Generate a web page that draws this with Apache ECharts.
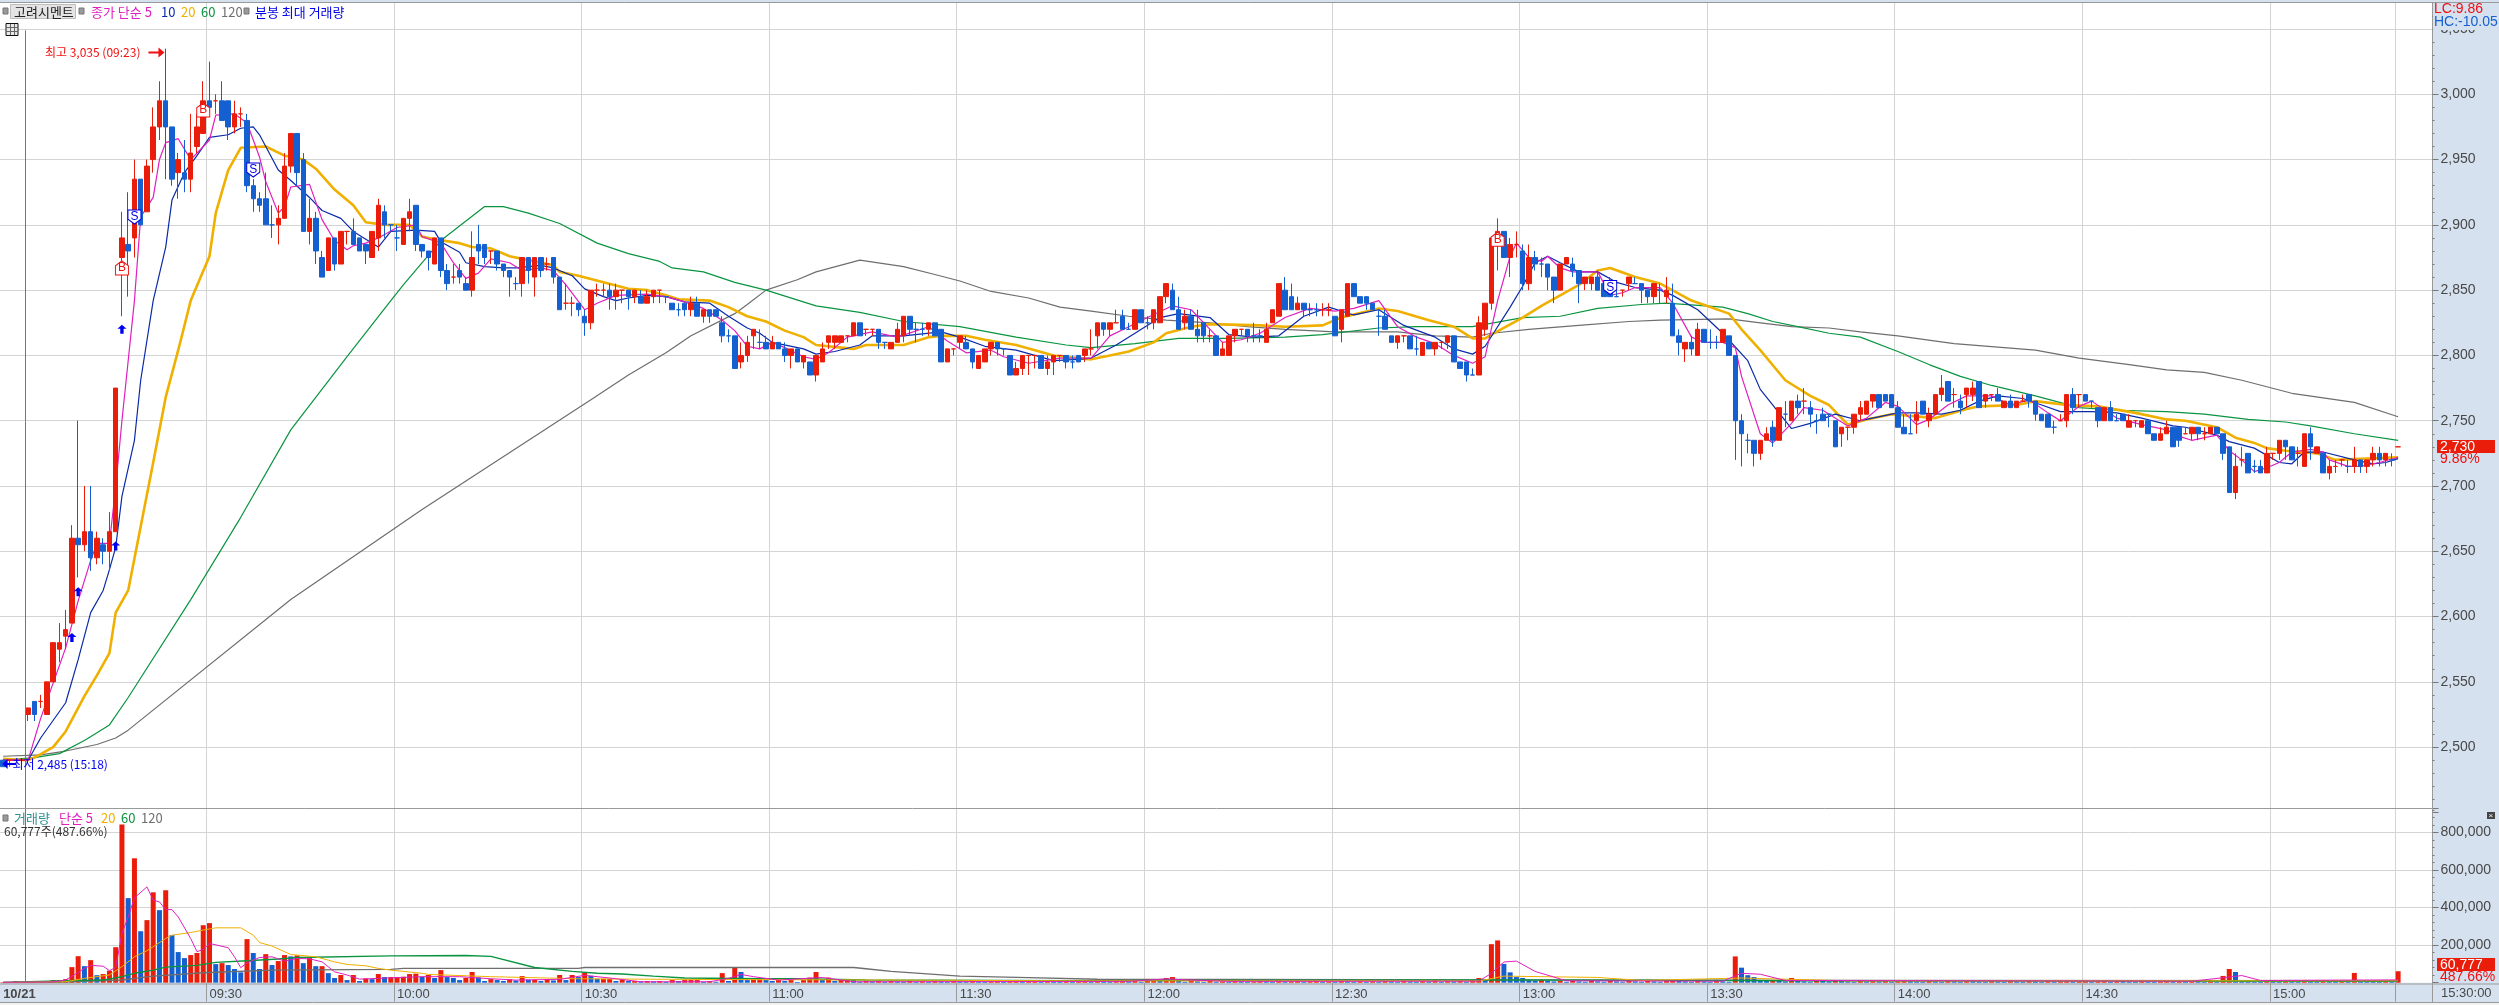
<!DOCTYPE html>
<html><head><meta charset="utf-8">
<style>html,body{margin:0;padding:0;background:#fff}#c{width:2499px;height:1005px}</style>
<script src="https://cdn.jsdelivr.net/npm/echarts@6/dist/echarts.min.js"></script>
</head><body><div id="c"></div>
<script>
// one row per minute: open, close, low, high
const candles = [
[2490,2485,2485,2490],[2490,2490,2485,2490],[2490,2490,2490,2490],[2490,2490,2490,2490],
[2525,2530,2520,2530],[2535,2525,2520,2535],[2535,2535,2530,2540],[2525,2550,2525,2550],[2550,2580,2550,2580],[2575,2580,2565,2595],
[2585,2590,2575,2605],[2595,2660,2595,2670],[2660,2655,2630,2750],[2655,2665,2650,2700],[2665,2645,2635,2700],[2645,2660,2640,2665],[2655,2650,2640,2660],[2650,2665,2635,2680],[2665,2775,2665,2775],[2875,2890,2830,2910],
[2885,2880,2845,2925],[2890,2935,2875,2950],[2935,2900,2900,2935],[2910,2945,2910,2950],[2950,2975,2940,2990],[2975,2995,2965,3010],[2995,2975,2935,3035],[2975,2935,2930,2975],[2940,2950,2920,2955],[2940,2935,2925,2965],
[2935,2955,2925,2985],[2960,2975,2955,2985],[2970,2995,2970,3010],[2995,2990,2985,3025],[2995,2995,2985,3000],[2995,2980,2980,3010],[2995,2975,2965,2995],[2975,2985,2970,2995],[2985,2985,2975,2990],[2980,2930,2925,2985],
[2930,2920,2910,2935],[2920,2915,2910,2925],[2920,2900,2900,2940],[2900,2900,2890,2915],[2900,2905,2885,2915],[2905,2945,2905,2955],[2945,2970,2940,2970],[2970,2940,2930,2970],[2950,2895,2895,2955],[2895,2905,2885,2920],
[2905,2880,2870,2910],[2875,2860,2860,2880],[2865,2890,2865,2890],[2890,2870,2865,2890],[2870,2895,2870,2895],[2895,2895,2885,2895],[2895,2885,2885,2905],[2890,2880,2880,2890],[2885,2880,2870,2885],[2875,2895,2875,2895],
[2890,2915,2880,2920],[2910,2900,2890,2915],[2900,2900,2895,2900],[2890,2890,2880,2900],[2885,2905,2885,2905],[2905,2910,2895,2920],[2915,2885,2880,2915],[2885,2880,2875,2885],[2880,2875,2865,2880],[2870,2890,2870,2890],
[2890,2865,2860,2890],[2865,2855,2850,2870],[2860,2860,2855,2870],[2865,2860,2855,2870],[2855,2850,2850,2860],[2850,2875,2845,2895],[2885,2880,2870,2900],[2885,2875,2870,2885],[2880,2880,2870,2880],[2880,2870,2865,2880],
[2870,2865,2860,2870],[2865,2860,2845,2865],[2855,2855,2850,2860],[2855,2875,2845,2875],[2875,2865,2855,2875],[2860,2875,2845,2875],[2875,2865,2860,2875],[2870,2870,2865,2875],[2875,2860,2855,2875],[2860,2835,2835,2860],
[2840,2840,2835,2855],[2840,2840,2830,2845],[2840,2835,2830,2840],[2830,2825,2815,2835],[2825,2850,2820,2850],[2850,2850,2845,2855],[2850,2850,2845,2855],[2850,2845,2835,2855],[2845,2850,2835,2855],[2850,2850,2840,2850],
[2850,2845,2835,2850],[2845,2850,2840,2850],[2845,2840,2840,2850],[2840,2845,2840,2850],[2845,2850,2840,2850],[2850,2850,2840,2850],[2845,2845,2840,2845],[2840,2835,2835,2840],[2835,2835,2830,2840],[2840,2835,2830,2840],
[2835,2840,2830,2845],[2840,2830,2830,2845],[2830,2835,2825,2835],[2835,2830,2825,2835],[2835,2830,2830,2835],[2825,2815,2810,2830],[2815,2815,2810,2820],[2815,2790,2790,2815],[2795,2800,2790,2810],[2800,2810,2795,2815],
[2815,2820,2805,2820],[2810,2810,2805,2820],[2810,2805,2805,2815],[2805,2810,2805,2815],[2810,2805,2805,2810],[2805,2800,2795,2810],[2800,2805,2790,2805],[2805,2795,2795,2805],[2795,2800,2790,2800],[2795,2785,2785,2795],
[2785,2800,2780,2800],[2795,2805,2795,2810],[2810,2815,2805,2815],[2810,2815,2805,2815],[2810,2815,2810,2815],[2815,2815,2810,2815],[2815,2825,2815,2825],[2825,2815,2815,2825],[2820,2820,2815,2820],[2820,2820,2815,2820],
[2820,2810,2805,2820],[2810,2810,2805,2810],[2805,2810,2805,2810],[2810,2820,2810,2825],[2815,2830,2810,2830],[2830,2820,2815,2830],[2820,2820,2810,2825],[2820,2820,2815,2825],[2820,2825,2815,2825],[2825,2815,2815,2825],
[2820,2795,2795,2820],[2795,2805,2795,2805],[2805,2805,2800,2805],[2810,2815,2805,2815],[2810,2805,2805,2815],[2805,2795,2790,2805],[2790,2800,2790,2800],[2795,2805,2795,2805],[2805,2810,2800,2810],[2810,2805,2800,2810],
[2805,2805,2800,2805],[2800,2785,2785,2800],[2785,2790,2785,2795],[2790,2800,2785,2800],[2800,2800,2785,2800],[2800,2800,2790,2800],[2800,2790,2790,2800],[2790,2795,2785,2800],[2795,2800,2785,2800],[2800,2800,2795,2800],
[2800,2795,2790,2800],[2795,2795,2790,2800],[2800,2795,2795,2800],[2800,2805,2795,2805],[2805,2805,2800,2820],[2815,2825,2805,2825],[2825,2820,2815,2825],[2820,2825,2815,2825],[2825,2825,2825,2835],[2830,2820,2820,2835],
[2820,2820,2820,2825],[2820,2835,2820,2835],[2835,2825,2825,2835],[2825,2825,2820,2830],[2825,2835,2820,2835],[2825,2845,2825,2845],[2845,2855,2840,2855],[2850,2835,2835,2855],[2835,2820,2820,2845],[2825,2830,2820,2835],
[2830,2820,2820,2835],[2820,2815,2810,2835],[2825,2815,2810,2825],[2815,2815,2810,2820],[2815,2800,2800,2815],[2800,2805,2800,2810],[2800,2815,2800,2815],[2815,2820,2810,2820],[2820,2820,2815,2820],[2820,2815,2810,2820],
[2815,2815,2810,2825],[2815,2815,2810,2820],[2810,2820,2810,2825],[2825,2835,2825,2835],[2830,2855,2830,2855],[2850,2835,2835,2860],[2845,2835,2835,2855],[2835,2840,2835,2845],[2840,2835,2830,2840],[2835,2835,2830,2840],
[2835,2835,2830,2840],[2835,2835,2830,2840],[2835,2835,2830,2840],[2830,2815,2815,2830],[2820,2835,2810,2835],[2830,2855,2830,2855],[2855,2845,2845,2855],[2845,2840,2840,2845],[2845,2840,2835,2845],[2840,2835,2835,2840],
[2830,2830,2815,2835],[2830,2820,2820,2835],[2815,2810,2810,2815],[2810,2815,2805,2815],[2815,2815,2810,2815],[2815,2805,2805,2815],[2805,2805,2800,2815],[2800,2810,2800,2810],[2810,2805,2805,2810],[2805,2810,2800,2810],
[2810,2810,2805,2810],[2810,2815,2805,2815],[2815,2795,2795,2815],[2795,2790,2790,2795],[2795,2785,2780,2795],[2785,2785,2785,2790],[2785,2825,2785,2830],[2820,2840,2815,2840],[2840,2890,2835,2890],[2890,2895,2865,2905],
[2895,2875,2875,2895],[2875,2885,2860,2890],[2885,2885,2875,2895],[2880,2855,2850,2885],[2855,2875,2850,2885],[2875,2870,2865,2880],[2870,2870,2860,2875],[2870,2860,2850,2870],[2860,2850,2840,2860],[2850,2870,2850,2870],
[2870,2875,2870,2875],[2870,2865,2860,2875],[2865,2855,2840,2865],[2855,2860,2850,2860],[2855,2860,2850,2860],[2860,2850,2850,2865],[2855,2845,2845,2855],[2850,2845,2845,2860],[2845,2845,2845,2850],[2850,2850,2845,2850],
[2855,2860,2850,2860],[2855,2855,2855,2860],[2855,2850,2840,2855],[2850,2845,2840,2850],[2845,2855,2840,2855],[2850,2850,2840,2855],[2845,2850,2840,2860],[2840,2815,2815,2855],[2815,2810,2800,2820],[2805,2810,2795,2810],
[2810,2805,2800,2815],[2800,2820,2800,2825],[2820,2810,2810,2820],[2810,2810,2805,2820],[2810,2810,2805,2815],[2810,2820,2810,2820],[2815,2800,2800,2815],[2800,2750,2720,2800],[2750,2740,2715,2755],[2735,2735,2725,2740],
[2735,2725,2715,2735],[2725,2735,2720,2735],[2735,2740,2735,2745],[2745,2735,2730,2750],[2735,2760,2735,2760],[2755,2755,2745,2765],[2750,2765,2750,2765],[2765,2760,2755,2770],[2765,2765,2755,2775],[2760,2755,2745,2765],
[2750,2750,2740,2755],[2755,2750,2750,2760],[2755,2755,2745,2755],[2750,2730,2730,2750],[2740,2745,2730,2745],[2745,2745,2735,2745],[2745,2755,2740,2755],[2755,2760,2750,2765],[2755,2765,2755,2765],[2765,2770,2760,2770],
[2770,2760,2760,2770],[2770,2765,2765,2770],[2770,2760,2760,2770],[2760,2745,2745,2765],[2745,2740,2740,2755],[2740,2740,2740,2755],[2750,2755,2740,2765],[2765,2755,2755,2765],[2750,2755,2745,2760],[2755,2770,2755,2770],
[2770,2775,2765,2785],[2780,2765,2765,2780],[2770,2770,2760,2775],[2765,2760,2755,2770],[2770,2775,2760,2775],[2770,2775,2765,2780],[2780,2760,2760,2780],[2765,2770,2760,2770],[2770,2770,2765,2770],[2770,2765,2765,2775],
[2760,2765,2760,2765],[2765,2760,2760,2770],[2760,2765,2760,2765],[2765,2765,2765,2770],[2770,2765,2760,2770],[2765,2755,2750,2765],[2755,2750,2750,2755],[2755,2745,2745,2755],[2745,2745,2740,2750],[2750,2750,2750,2755],
[2750,2770,2745,2770],[2770,2760,2755,2775],[2770,2770,2760,2770],[2770,2765,2765,2770],[2765,2765,2760,2765],[2760,2750,2745,2760],[2750,2760,2750,2760],[2760,2750,2750,2765],[2750,2750,2750,2755],[2755,2750,2750,2755],
[2745,2750,2745,2755],[2750,2750,2745,2750],[2745,2750,2745,2750],[2750,2740,2740,2750],[2740,2735,2735,2740],[2735,2740,2735,2745],[2740,2745,2740,2750],[2745,2730,2730,2745],[2745,2735,2730,2745],[2740,2740,2740,2745],
[2740,2745,2735,2745],[2745,2740,2735,2745],[2740,2740,2735,2745],[2740,2745,2740,2745],[2745,2740,2740,2745],[2740,2725,2720,2740],[2730,2695,2695,2730],[2695,2715,2690,2725],[2720,2720,2715,2730],[2725,2710,2710,2725],
[2715,2715,2710,2720],[2715,2710,2710,2720],[2710,2725,2710,2730],[2725,2725,2720,2725],[2725,2735,2720,2735],[2735,2730,2720,2735],[2730,2720,2720,2730],[2725,2725,2715,2730],[2715,2740,2715,2740],[2740,2730,2720,2745],
[2725,2730,2725,2730],[2725,2710,2710,2725],[2710,2715,2705,2720],[2715,2715,2710,2720],[2720,2720,2715,2720],[2715,2715,2710,2720],[2715,2720,2710,2730],[2720,2715,2710,2720],[2715,2720,2710,2720],[2720,2725,2715,2730],
[2725,2720,2715,2730],[2720,2725,2715,2725],[2720,2720,2715,2725],[2730,2730,2730,2730]
];
const blueDoji = [43,62,63,82,106,108,116,121,141,146,147,160,171,180,183,200,201,209,210,220,226,235,246,258,261,265,273,274,279,285,290,292,305,328,334,338,354,360,375,382];

// volume per minute, thousands of shares
const volumeK = [
3,1,8,1,1,1,1,9,14,14, 19,83,141,88,120,40,46,64,189,842,
450,662,274,333,481,386,492,253,163,131, 147,158,306,317,99,104,94,73,55,232,
158,73,152,94,115,147,140,145,104,131, 88,88,51,25,41,14,41,9,23,19,
46,30,30,30,32,46,48,32,41,25, 67,30,25,14,25,57,28,9,19,14,
9,18,12,35,16,16,9,18,12,41, 14,41,30,53,37,21,21,21,9,16,
9,9,7,9,7,9,5,14,9,14, 14,14,5,9,5,51,9,80,57,14,
18,18,14,9,14,9,14,4,14,27, 57,18,27,9,18,18,14,5,9,7,
9,5,9,7,5,9,5,7,5,9, 7,5,9,7,5,9,7,5,7,9,
5,7,9,5,7,9,5,9,7,5, 9,5,7,9,5,9,7,5,7,9,
7,9,5,9,14,9,25,30,14,5, 9,7,5,9,5,7,5,9,7,5,
5,9,7,5,9,5,7,9,5,7, 9,5,7,5,9,7,5,9,5,7,
5,9,7,5,9,7,5,9,7,14,
5,9,7,9,5,14,25,14,205,225, 100,55,30,25,14,9,14,9,7,9,
5,9,7,5,9,7,5,9,7,5, 9,7,5,9,7,5,9,14,9,7,
5,9,7,5,9,7,5,140,80,40, 30,14,9,14,9,7,25,9,7,5,
14,9,7,14,9,7,5,9,7,9, 7,9,5,7,14,9,7,5,9,7,
5,9,7,5,14,9,7,5,9,7, 5,9,7,5,9,7,5,9,5,7,
9,5,7,9,5,7,9,5,14,9, 7,5,9,7,5,7,9,5,7,5,
9,7,5,9,5,36,73,57,14,9, 7,5,9,7,5,9,7,5,9,7,
5,9,7,5,9,7,52,14,9,7,5,9,7,61
];

// moving averages: [minute index, price]
const ma5 = [[0,2490],[4,2490],[6,2522],[10,2576],[12,2612],[14,2643],[15,2656],[17,2656],[18,2699],[19,2750],[21,2842],[22,2906],[24,2921],[25,2950],[26,2963],[28,2966],[30,2950],[33,2965],[34,2984],[37,2985],[39,2978],[41,2952],[42,2933],[44,2909],[45,2914],[46,2929],[49,2931],[51,2904],[53,2888],[55,2881],[56,2884],[58,2886],[60,2890],[63,2898],[66,2900],[67,2891],[70,2886],[72,2871],[74,2859],[76,2863],[78,2874],[81,2871],[83,2865],[86,2867],[88,2865],[90,2854],[93,2835],[95,2840],[98,2846],[103,2847],[106,2845],[109,2841],[112,2836],[115,2827],[117,2819],[119,2807],[121,2805],[123,2810],[125,2806],[128,2799],[130,2797],[132,2802],[135,2814],[139,2818],[143,2814],[148,2822],[151,2811],[154,2802],[158,2804],[160,2799],[164,2794],[169,2798],[174,2798],[177,2815],[180,2822],[183,2829],[187,2838],[190,2835],[193,2820],[195,2810],[198,2812],[201,2817],[205,2829],[209,2836],[213,2834],[216,2836],[220,2842],[223,2822],[226,2814],[229,2809],[232,2800],[235,2794],[237,2799],[239,2842],[241,2876],[242,2886],[244,2875],[246,2872],[247,2876],[249,2867],[251,2864],[255,2864],[257,2846],[259,2848],[261,2852],[265,2852],[267,2840],[270,2814],[272,2810],[275,2810],[277,2806],[278,2784],[281,2740],[283,2733],[286,2748],[288,2760],[291,2758],[295,2746],[298,2752],[301,2764],[303,2761],[306,2747],[308,2751],[311,2762],[314,2769],[318,2769],[321,2762],[324,2766],[327,2756],[329,2750],[332,2761],[334,2765],[338,2752],[342,2747],[346,2743],[348,2738],[350,2735],[354,2739],[356,2727],[358,2720],[360,2711],[362,2714],[364,2718],[366,2726],[369,2728],[371,2726],[372,2720],[375,2715],[377,2715],[380,2718],[383,2722]];
const ma10 = [[0,2490],[4,2490],[6,2507],[10,2534],[12,2567],[14,2603],[16,2620],[17,2636],[18,2653],[19,2692],[21,2735],[22,2781],[24,2842],[26,2883],[27,2919],[29,2940],[31,2953],[33,2967],[36,2969],[38,2974],[40,2975],[41,2969],[44,2942],[46,2934],[49,2921],[51,2911],[54,2905],[56,2895],[60,2883],[62,2895],[66,2896],[69,2895],[70,2887],[73,2879],[74,2871],[77,2868],[80,2867],[82,2867],[86,2869],[88,2867],[91,2861],[93,2851],[96,2845],[98,2842],[100,2844],[103,2846],[106,2845],[109,2841],[113,2840],[116,2830],[119,2821],[121,2817],[123,2810],[128,2805],[130,2801],[133,2803],[137,2808],[139,2815],[144,2815],[150,2818],[153,2814],[157,2807],[162,2804],[165,2800],[168,2796],[172,2797],[174,2798],[178,2808],[181,2817],[185,2829],[188,2832],[193,2829],[196,2816],[200,2814],[204,2815],[208,2830],[212,2837],[216,2831],[220,2835],[224,2823],[229,2814],[232,2805],[235,2801],[237,2807],[241,2837],[243,2853],[245,2871],[247,2876],[249,2871],[252,2864],[255,2864],[258,2856],[261,2852],[265,2850],[267,2846],[271,2835],[275,2817],[279,2796],[281,2774],[284,2756],[286,2744],[289,2748],[293,2755],[297,2750],[303,2756],[306,2756],[310,2755],[313,2758],[316,2765],[319,2769],[323,2767],[326,2762],[329,2757],[334,2757],[338,2756],[342,2752],[347,2746],[349,2745],[354,2739],[356,2734],[360,2729],[364,2718],[366,2717],[368,2726],[371,2726],[376,2720],[379,2717],[381,2718],[383,2721]];
const ma20 = [[0,2491],[4,2490],[5,2492],[8,2500],[10,2512],[13,2539],[15,2555],[17,2572],[18,2603],[20,2620],[22,2669],[24,2718],[26,2768],[28,2804],[30,2842],[33,2876],[34,2909],[36,2942],[38,2959],[42,2960],[45,2953],[48,2950],[50,2943],[53,2927],[56,2915],[58,2902],[61,2900],[65,2900],[67,2891],[69,2889],[73,2886],[75,2883],[78,2882],[81,2876],[84,2873],[88,2869],[89,2864],[92,2861],[96,2856],[100,2851],[103,2850],[106,2846],[108,2843],[113,2842],[116,2837],[119,2830],[122,2826],[125,2819],[128,2814],[130,2808],[136,2805],[138,2808],[144,2808],[148,2814],[150,2815],[154,2815],[157,2812],[162,2808],[168,2800],[174,2797],[177,2800],[180,2803],[184,2810],[186,2817],[190,2822],[193,2824],[201,2823],[205,2822],[211,2823],[214,2829],[220,2836],[223,2834],[228,2827],[232,2822],[235,2813],[237,2813],[238,2816],[243,2829],[246,2838],[252,2854],[255,2865],[257,2867],[261,2860],[265,2855],[270,2842],[276,2832],[278,2820],[281,2804],[285,2781],[289,2769],[292,2762],[295,2747],[298,2751],[302,2755],[309,2752],[314,2759],[316,2761],[322,2762],[325,2765],[330,2762],[335,2761],[341,2756],[346,2751],[349,2750],[354,2745],[357,2737],[360,2733],[362,2729],[365,2727],[370,2725],[373,2720],[383,2722]];
const ma60 = [[0,2490],[5,2492],[9,2495],[13,2505],[17,2517],[20,2538],[30,2613],[38,2676],[46,2743],[55,2799],[62,2842],[64,2854],[70,2888],[77,2914],[80,2914],[84,2909],[89,2901],[95,2886],[100,2878],[105,2872],[107,2867],[112,2864],[117,2856],[122,2850],[130,2838],[137,2833],[144,2826],[153,2822],[162,2814],[170,2808],[174,2806],[181,2809],[188,2813],[196,2813],[205,2814],[211,2816],[220,2821],[226,2822],[235,2822],[243,2829],[249,2830],[255,2836],[262,2839],[266,2840],[275,2837],[279,2832],[283,2826],[287,2822],[292,2817],[297,2814],[303,2803],[308,2793],[313,2784],[318,2777],[325,2769],[332,2760],[338,2758],[346,2757],[352,2755],[359,2751],[365,2749],[369,2746],[376,2740],[383,2735]];
const ma120 = [[0,2493],[6,2494],[10,2497],[15,2502],[18,2507],[20,2513],[46,2613],[67,2682],[94,2766],[100,2785],[106,2802],[110,2815],[117,2832],[119,2839],[122,2850],[127,2858],[130,2864],[137,2873],[144,2868],[149,2862],[153,2857],[158,2849],[164,2844],[169,2837],[174,2834],[180,2830],[186,2827],[193,2825],[199,2822],[205,2820],[213,2818],[223,2818],[229,2815],[235,2814],[238,2817],[244,2820],[252,2823],[260,2826],[265,2827],[276,2828],[281,2825],[286,2822],[292,2821],[297,2818],[303,2815],[312,2809],[325,2804],[332,2798],[340,2793],[346,2789],[352,2787],[358,2781],[366,2771],[376,2764],[383,2753]];

// volume averages: [minute index, thousands of shares]
const volMa5 = [[0,2],[8,4],[10,14],[13,76],[14,92],[16,88],[17,64],[18,81],[19,262],[20,350],[21,451],[23,510],[24,439],[25,430],[26,389],[27,389],[28,350],[30,235],[31,165],[32,177],[33,209],[36,186],[37,138],[38,80],[39,106],[41,134],[43,138],[45,115],[47,129],[49,127],[51,111],[53,58],[55,41],[57,19],[60,23],[64,28],[67,32],[73,32],[78,21],[82,14],[89,18],[93,39],[97,25],[102,5],[113,5],[116,23],[118,44],[120,32],[124,14],[131,28],[136,5],[180,7],[186,20],[190,14],[196,7],[236,8],[238,50],[240,110],[242,115],[245,60],[250,10],[275,8],[278,50],[281,45],[285,12],[350,8],[356,30],[358,38],[361,12],[383,15]];
const volMa20 = [[0,1],[10,5],[13,23],[17,41],[19,85],[21,138],[23,170],[26,235],[27,253],[30,267],[32,280],[34,292],[38,292],[40,253],[41,214],[43,195],[46,150],[50,138],[53,111],[55,97],[58,90],[60,76],[62,67],[67,50],[68,44],[78,32],[92,21],[106,18],[142,14],[170,10],[236,9],[240,35],[255,28],[262,12],[278,25],[295,10],[383,10]];
const volMa60 = [[0,1],[10,10],[16,14],[19,32],[21,50],[24,67],[26,83],[31,92],[34,108],[39,117],[44,126],[47,134],[62,143],[74,145],[78,140],[85,81],[91,60],[95,50],[99,46],[104,35],[109,25],[121,21],[127,21],[138,14],[171,11],[240,15],[290,10],[383,8]];
const volMa120 = [[0,1],[8,2],[19,14],[24,35],[32,53],[43,67],[62,71],[64,76],[92,76],[93,81],[136,81],[138,74],[142,60],[153,35],[164,27],[175,18],[240,15],[300,12],[383,10]];

// signal markers and extremes: [minute index, price]
const buyMarks = [[19,2867],[32,2988],[239,2889]];
const sellMarks = [[21,2906],[40,2942],[257,2852]];
const upArrows = [[11,2584],[12,2619],[18,2654],[19,2820]];
const highMark = [[25,3032]];
const lowMark = [[1,2487]];

const BAND_COUNT = 389;
const DIVIDER_BAND = 4;
const tickLabels = {0:'10/21',33:'09:30',63:'10:00',93:'10:30',123:'11:00',153:'11:30',183:'12:00',213:'12:30',243:'13:00',273:'13:30',303:'14:00',333:'14:30',363:'15:00'};
const categories = Array.from({length:BAND_COUNT},(_,i)=>tickLabels[i]||String(i));

const RED='#ea1c0a', BLUE='#1460d0', C5='#e01fbe', C10='#0a2aa8', C20='#f0b000', C60='#0a9440', C120='#6e6e6e';
const PANE='#d6e1ef', GRID='#d4d4d4', EDGE='#9a9a9a', INK='#484848';
const SANS='"Liberation Sans",sans-serif', NARROW='"Liberation Sans Narrow","Liberation Sans",sans-serif', KR='"Noto Sans CJK KR","Liberation Sans",sans-serif';

const gridTick = i => i===383 || (i>=33 && i<=363 && (i-33)%30===0);

function timeAxis(gridIndex, extra){
  return Object.assign({type:'category',gridIndex,data:categories,boundaryGap:true,
    axisLine:{show:false},axisTick:{show:false},axisLabel:{show:false},
    splitLine:{show:true,interval:(i)=>gridTick(i),lineStyle:{color:GRID,width:1}}},extra||{});
}
// a plain numeric twin of the time axis: one unit per band, so a whole number falls on a band edge
function bandEdgeAxis(gridIndex){
  return {type:'value',gridIndex,min:0,max:BAND_COUNT,show:false,splitLine:{show:false},axisLine:{show:false},axisTick:{show:false},axisLabel:{show:false}};
}
function lineSeries(name,data,color,width,xi,yi,z){
  return {type:'line',name,data,xAxisIndex:xi,yAxisIndex:yi,showSymbol:false,symbol:'none',silent:true,
    smooth:false,lineStyle:{color,width},z:z||2,animation:false};
}
function dividerSeries(xi,yi,from,to){
  return {type:'line',data:[],xAxisIndex:xi,yAxisIndex:yi,silent:true,z:1,
    markLine:{silent:true,symbol:'none',label:{show:false},animation:false,lineStyle:{color:'#d05050',width:1,type:'solid'},
      data:[[{coord:[DIVIDER_BAND,from]},{coord:[DIVIDER_BAND,to]}]]}};
}
const k = arr => arr.map(p=>[p[0],p[1]*1000]);

const candleData = candles.map((c,i)=>{
  if(c[0]!==c[1]) return c;
  const col = blueDoji.includes(i)?BLUE:RED;
  return {value:c,itemStyle:{color:col,color0:col,borderColor:col,borderColor0:col,borderColorDoji:col}};
});
const volumeData = volumeK.map((v,i)=>({value:v*1000,itemStyle:{color:(i>0&&v<volumeK[i-1])?BLUE:RED}}));

function txt(x,y,text,fill,o){
  return {type:'text',x,y,z:50,silent:true,style:Object.assign({text,fill,font:'13px '+KR,textVerticalAlign:'middle'},o||{})};
}
function box(x,y,w,h,fill,stroke,z){
  return {type:'rect',x,y,z:z||40,silent:true,shape:{x:0,y:0,width:w,height:h},style:{fill,stroke:stroke||null,lineWidth:stroke?1:0}};
}
function rule(x1,y1,x2,y2,color,z){
  return {type:'line',z:z||30,silent:true,shape:{x1,y1,x2,y2},style:{stroke:color,lineWidth:1}};
}
const graphics = [
  rule(0,2.5,2499,2.5,EDGE), rule(0,808.5,2433,808.5,EDGE), rule(0,984,2499,984,EDGE), rule(0,1002.5,2499,1002.5,EDGE),
  box(0,1003,2499,2,'#f2f2f2'),
  // top legend
  box(3,8,5,6,'#9a9a9a','#777777'), box(10.5,4.5,65,14,'#e4e4e4','#bdbdbd'),
  txt(14,12,'고려시멘트','#222'),
  box(79,8,5,6,'#9a9a9a','#777777'),
  txt(91,12,'종가 단순 5',C5), txt(161,12,'10',C10), txt(181,12,'20',C20), txt(201,12,'60',C60), txt(221,12,'120',C120),
  box(244,8,5,6,'#9a9a9a','#777777'), txt(255,12,'분봉 최대 거래량','#0000e8'),
  box(6,23.5,12,12,'#e8e8e8','#111'), rule(6,27.5,18,27.5,'#666',41), rule(6,31.5,18,31.5,'#666',41), rule(10.5,24,10.5,35,'#666',41), rule(14.5,24,14.5,35,'#666',41),
  // volume legend
  box(3,815,5,6,'#9a9a9a','#777777'),
  txt(14,818,'거래량','#2e9090'), txt(59,818,'단순 5',C5), txt(101,818,'20',C20), txt(121,818,'60',C60), txt(141,818,'120',C120),
  txt(4,831,'60,777주(487.66%)','#333',{font:'12px '+KR}),
  // axis pane annotations
  box(2433,3,66,27,PANE,null,45),
  txt(2434,9.5,'LC:9.86','#f01010',{font:'14px '+NARROW}), txt(2434,22.5,'HC:-10.05',BLUE,{font:'14px '+NARROW}),
  box(2437,440,58,13,RED), txt(2440,447,'2,730','#fff',{font:'14px '+NARROW}), txt(2440,459,'9.86%','#f01010',{font:'14px '+NARROW}),
  box(2437,958,58,13,RED), txt(2440,965,'60,777','#fff',{font:'14px '+NARROW}), txt(2440,977,'487.66%','#f01010',{font:'14px '+NARROW}),
  box(2487,812,8,7,'#444'), txt(2488.5,815.5,'×','#fff',{font:'8px '+SANS}),
  txt(2441,993,'15:30:00',INK,{font:'13px '+NARROW}),
  rule(2432.5,984,2432.5,1002,EDGE)
];

const chart = echarts.init(document.getElementById('c'),null,{renderer:'canvas'});
chart.setOption({
  animation:false,
  backgroundColor:PANE,
  grid:[
    {left:0,width:2432.5,top:2.9,height:809.5,show:true,backgroundColor:'#fff',borderWidth:0,containLabel:false},
    {left:0,width:2432.5,top:808.5,height:174.2,show:true,backgroundColor:'#fff',borderWidth:0,containLabel:false}
  ],
  xAxis:[
    timeAxis(0),
    timeAxis(1,{
      axisTick:{show:true,alignWithLabel:false,interval:(i)=>gridTick(i),length:19,lineStyle:{color:EDGE}},
      axisLabel:{show:true,interval:(i)=>tickLabels[i]!==undefined,margin:5,align:'left',hideOverlap:false,color:INK,
        fontFamily:NARROW,fontSize:13,
        formatter:(v)=>v==='10/21'?'{d|10/21}':(/:/.test(v)?v:''),
        rich:{d:{fontFamily:SANS,fontSize:13,fontWeight:'bold',color:INK}}}
    }),
    bandEdgeAxis(0),bandEdgeAxis(1)
  ],
  yAxis:[
    {type:'value',gridIndex:0,position:'right',min:2450,max:3070,interval:50,scale:true,
      axisLine:{show:true,onZero:false,lineStyle:{color:EDGE}},
      axisTick:{show:true,length:6,lineStyle:{color:'#777'}},
      minorTick:{show:true,splitNumber:5,length:2,lineStyle:{color:'#777'}},
      splitLine:{show:true,showMinLine:false,showMaxLine:false,lineStyle:{color:GRID}},
      axisLabel:{margin:8,color:INK,fontFamily:NARROW,fontSize:14,showMinLabel:false,showMaxLabel:false,
        formatter:(v)=>v.toLocaleString('en-US')}},
    {type:'value',gridIndex:1,position:'right',min:0,max:927000,interval:200000,
      axisLine:{show:true,onZero:false,lineStyle:{color:EDGE}},
      axisTick:{show:true,length:6,lineStyle:{color:'#777'}},
      minorTick:{show:true,splitNumber:5,length:2,lineStyle:{color:'#777'}},
      splitLine:{show:true,showMinLine:false,showMaxLine:false,lineStyle:{color:GRID}},
      axisLabel:{margin:8,color:INK,fontFamily:NARROW,fontSize:14,showMinLabel:false,showMaxLabel:false,
        formatter:(v)=>v.toLocaleString('en-US')}}
  ],
  series:[
    dividerSeries(2,0,3049,2450),
    dividerSeries(3,1,927000,0),
    lineSeries('MA120',ma120,C120,1.2,0,0),
    lineSeries('MA60',ma60,C60,1.2,0,0),
    lineSeries('MA20',ma20,C20,2.6,0,0),
    lineSeries('MA10',ma10,C10,1.2,0,0),
    lineSeries('MA5',ma5,C5,1.2,0,0),
    {type:'candlestick',name:'price',data:candleData,xAxisIndex:0,yAxisIndex:0,barWidth:5,z:3,silent:true,
      itemStyle:{color:RED,color0:BLUE,borderColor:RED,borderColor0:BLUE,borderWidth:1}},
    {type:'scatter',name:'buy',data:buyMarks,xAxisIndex:0,yAxisIndex:0,z:6,silent:true,
      symbol:'path://M6,0 L12,4.5 L12,13 L0,13 L0,4.5 Z',symbolSize:[13,14],
      itemStyle:{color:'#fff',borderColor:'#f01010',borderWidth:1,opacity:1},
      label:{show:true,position:'inside',formatter:'B',color:'#f01010',fontFamily:SANS,fontSize:12}},
    {type:'scatter',name:'sell',data:sellMarks,xAxisIndex:0,yAxisIndex:0,z:6,silent:true,
      symbol:'path://M0,0 L12,0 L12,8.5 L6,13 L0,8.5 Z',symbolSize:[13,14],
      itemStyle:{color:'#fff',borderColor:'#0000e0',borderWidth:1,opacity:1},
      label:{show:true,position:'inside',formatter:'S',color:'#0000e0',fontFamily:SANS,fontSize:12}},
    {type:'scatter',name:'up',data:upArrows,xAxisIndex:0,yAxisIndex:0,z:6,silent:true,
      symbol:'path://M4,0 L8,4 L5.5,4 L5.5,9 L2.5,9 L2.5,4 L0,4 Z',symbolSize:[9,9],itemStyle:{color:'#0000f0',opacity:1}},
    {type:'scatter',name:'high',data:highMark,xAxisIndex:0,yAxisIndex:0,z:6,silent:true,
      symbol:'path://M0,4 L10,4 L10,0 L16,5 L10,10 L10,6 L0,6 Z',symbolSize:[16,10],symbolOffset:[-3,0],itemStyle:{color:'#f01010',opacity:1},
      label:{show:true,position:'left',distance:8,formatter:'최고 3,035 (09:23)',color:'#f01010',fontFamily:KR,fontSize:12}},
    {type:'scatter',name:'low',data:lowMark,xAxisIndex:0,yAxisIndex:0,z:6,silent:true,
      symbol:'path://M16,4 L6,4 L6,0 L0,5 L6,10 L6,6 L16,6 Z',symbolSize:[14,10],itemStyle:{color:'#0000f0',opacity:1},
      label:{show:true,position:'right',distance:-4,formatter:'최저 2,485 (15:18)',color:'#0000f0',fontFamily:KR,fontSize:12}},
    {type:'bar',name:'volume',data:volumeData,xAxisIndex:1,yAxisIndex:1,barWidth:5,z:2,silent:true},
    lineSeries('volMA120',k(volMa120),C120,1.4,1,1,3),
    lineSeries('volMA60',k(volMa60),C60,1.4,1,1,3),
    lineSeries('volMA20',k(volMa20),C20,1,1,1,3),
    lineSeries('volMA5',k(volMa5),C5,1,1,1,3)
  ],
  graphic:{elements:graphics}
});
</script></body></html>
